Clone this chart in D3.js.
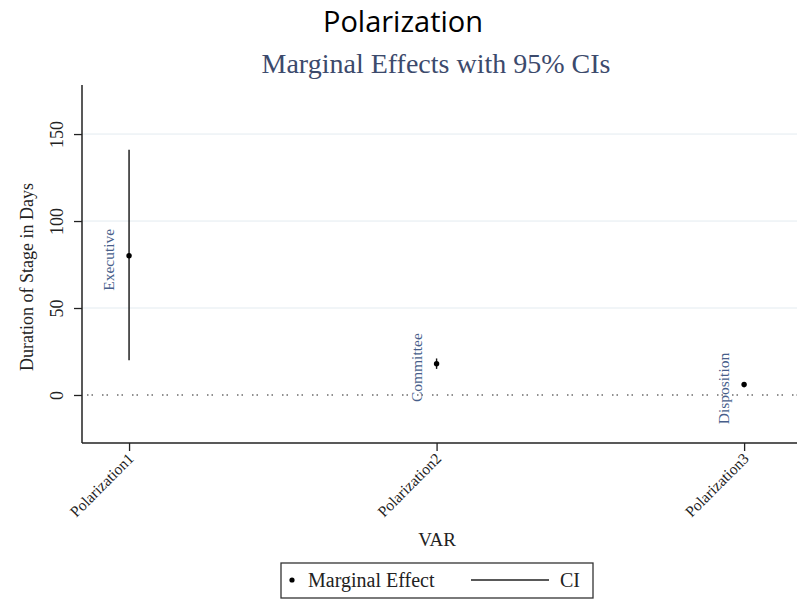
<!DOCTYPE html>
<html>
<head>
<meta charset="utf-8">
<script src="https://cdn.jsdelivr.net/npm/d3@7"></script>
<style>
  body { margin: 0; background: #fff; }
  text { font-family: "Liberation Serif", "DejaVu Serif", serif; }
</style>
</head>
<body>
<div id="chart"></div>
<script>
// data
var categories = ['Polarization1', 'Polarization2', 'Polarization3'];
var stages = ['Executive', 'Committee', 'Disposition'];
var effects = [80, 18, 6];
var ciLow = [20, 15, 4.5];
var ciHigh = [141, 21, 7.5];
var yTicks = [0, 50, 100, 150];

var width = 807, height = 615;
var plotLeft = 82, plotRight = 797, plotTop = 85, plotBottom = 443;

var svg = d3.select('#chart').append('svg')
  .attr('width', width)
  .attr('height', height);

var x = d3.scaleLinear().domain([0.847, 3.172]).range([plotLeft, plotRight]);
var y = d3.scaleLinear().domain([-27.6, 178.2]).range([plotBottom, plotTop]);

var rows = categories.map((c, i) => ({
  cat: c, stage: stages[i], i: i + 1, est: effects[i], lo: ciLow[i], hi: ciHigh[i]
}));

// titles
svg.append('text')
  .attr('x', 403).attr('y', 32)
  .attr('text-anchor', 'middle')
  .style('font-size', '29px')
  .style('font-family', '"Open Sans", sans-serif')
  .style('fill', '#000')
  .text('Polarization');

svg.append('text')
  .attr('x', 436).attr('y', 73)
  .attr('text-anchor', 'middle')
  .style('font-size', '28px')
  .style('fill', '#3c4a6c')
  .text('Marginal Effects with 95% CIs');

// gridlines
svg.append('g').selectAll('line')
  .data(yTicks.filter(d => d > 0))
  .enter().append('line')
  .attr('x1', plotLeft).attr('x2', plotRight)
  .attr('y1', d => y(d)).attr('y2', d => y(d))
  .attr('stroke', '#e3ebf0')
  .attr('stroke-width', 1);

// zero reference line
svg.append('line')
  .attr('x1', plotLeft + 5).attr('x2', plotRight)
  .attr('y1', y(0)).attr('y2', y(0))
  .attr('stroke', '#222')
  .attr('stroke-width', 1.1)
  .attr('stroke-dasharray', '1.5,3,1.5,9');

// y axis
var yAxis = svg.append('g')
  .attr('transform', 'translate(' + plotLeft + ',0)')
  .call(d3.axisLeft(y).tickValues(yTicks).tickSize(8).tickPadding(6));
yAxis.select('.domain').attr('d', 'M0,' + plotTop + 'V' + plotBottom).attr('stroke', '#222').attr('stroke-width', 1.5);
yAxis.selectAll('.tick line').attr('stroke', '#222').attr('stroke-width', 1.3);
yAxis.selectAll('.tick text')
  .attr('transform', 'rotate(-90)')
  .attr('x', 0).attr('y', -19)
  .attr('dy', 0)
  .style('text-anchor', 'middle')
  .style('font-size', '18px')
  .style('font-family', '"Liberation Serif", serif')
  .style('fill', '#222');

// x axis
var xAxis = svg.append('g')
  .attr('transform', 'translate(0,' + plotBottom + ')')
  .call(d3.axisBottom(x).tickValues([1, 2, 3]).tickFormat((d, i) => categories[i]).tickSize(8));
xAxis.select('.domain').attr('d', 'M' + plotLeft + ',0H' + plotRight).attr('stroke', '#222').attr('stroke-width', 1.5);
xAxis.selectAll('.tick line').attr('stroke', '#222').attr('stroke-width', 1.3);
xAxis.selectAll('.tick text')
  .attr('transform', 'rotate(-45)')
  .attr('x', -8).attr('y', 10)
  .attr('dy', '0.35em')
  .style('text-anchor', 'end')
  .style('font-size', '15.5px')
  .style('font-family', '"Liberation Serif", serif')
  .style('fill', '#222');

// axis titles
svg.append('text')
  .attr('transform', 'translate(33,' + 277 + ') rotate(-90)')
  .attr('text-anchor', 'middle')
  .style('font-size', '18px')
  .style('fill', '#222')
  .text('Duration of Stage in Days');

svg.append('text')
  .attr('x', 437).attr('y', 546)
  .attr('text-anchor', 'middle')
  .style('font-size', '19px')
  .style('fill', '#222')
  .text('VAR');

// CIs and estimates
var marks = svg.append('g').selectAll('g')
  .data(rows)
  .enter().append('g');

marks.append('line')
  .attr('x1', d => x(d.i)).attr('x2', d => x(d.i))
  .attr('y1', d => y(d.lo)).attr('y2', d => y(d.hi))
  .attr('stroke', '#111')
  .attr('stroke-width', 1.4);

marks.append('circle')
  .attr('cx', d => x(d.i)).attr('cy', d => y(d.est))
  .attr('r', 2.7)
  .attr('fill', '#000');

marks.append('text')
  .attr('transform', d => 'translate(' + (x(d.i) - 15) + ',' + (y(d.est) + 4) + ') rotate(-90)')
  .attr('text-anchor', 'middle')
  .style('font-size', '15.5px')
  .style('fill', '#475e8a')
  .text(d => d.stage);

// legend
var legend = svg.append('g').attr('transform', 'translate(281,563)');
legend.append('rect')
  .attr('width', 312).attr('height', 35)
  .attr('fill', '#fff')
  .attr('stroke', '#333')
  .attr('stroke-width', 1.3);
legend.append('circle')
  .attr('cx', 11).attr('cy', 17).attr('r', 2.6).attr('fill', '#000');
legend.append('text')
  .attr('x', 27).attr('y', 24)
  .style('font-size', '20px')
  .style('fill', '#222')
  .text('Marginal Effect');
legend.append('line')
  .attr('x1', 190).attr('x2', 268)
  .attr('y1', 17).attr('y2', 17)
  .attr('stroke', '#222').attr('stroke-width', 1.4);
legend.append('text')
  .attr('x', 279).attr('y', 24)
  .style('font-size', '20px')
  .style('fill', '#222')
  .text('CI');
</script>
</body>
</html>
